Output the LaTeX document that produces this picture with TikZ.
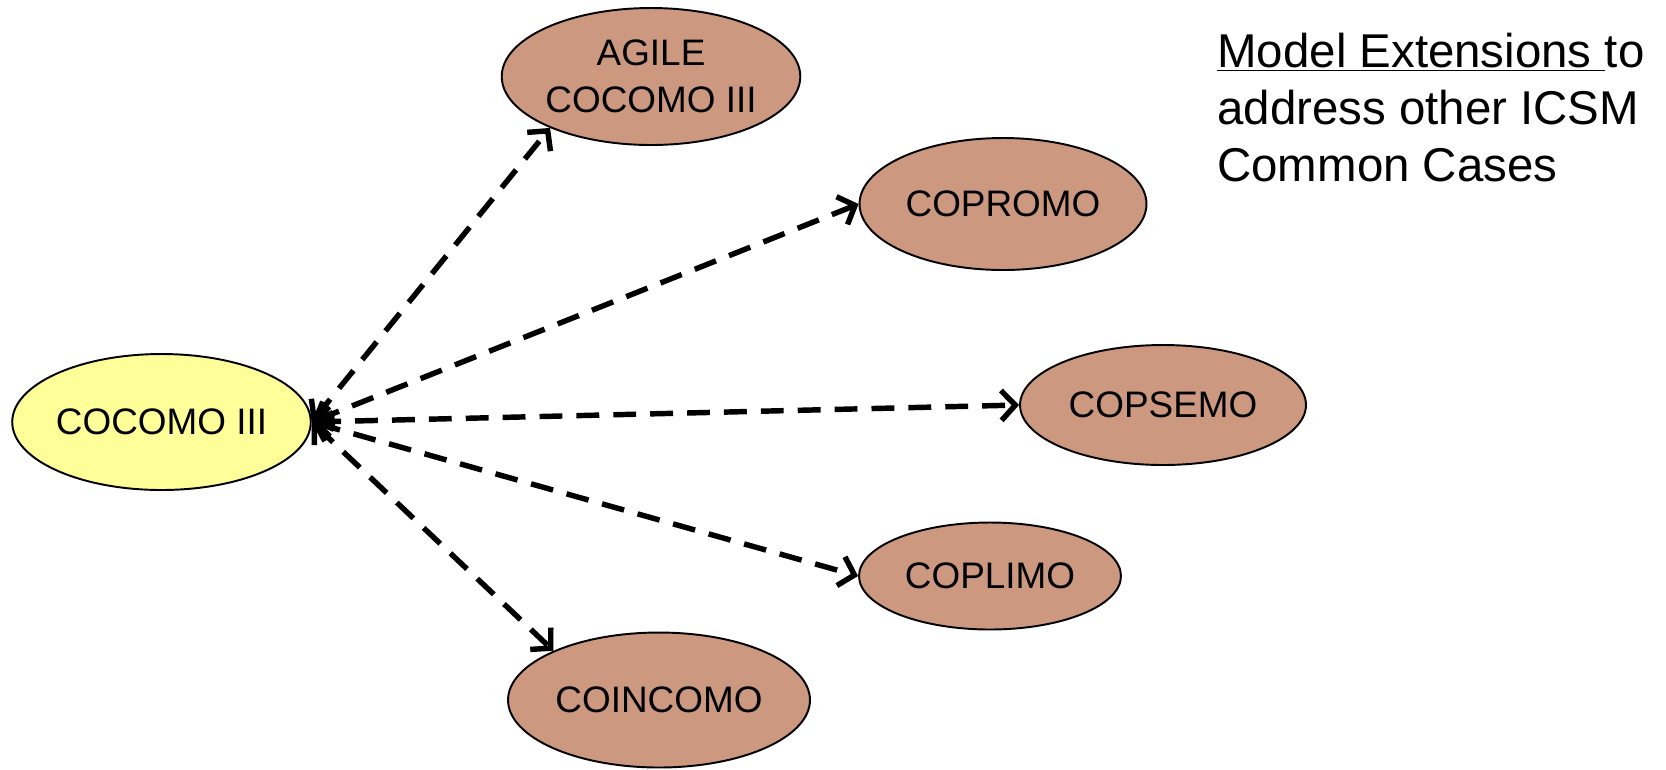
\documentclass[tikz,border=0pt]{standalone}
\usepackage{fontspec}
\setmainfont{Liberation Sans}
\usetikzlibrary{arrows.meta, shapes.geometric}
\definecolor{extbrown}{RGB}{204,153,128}
\definecolor{baseyellow}{RGB}{255,255,153}

\begin{document}
\begin{tikzpicture}[x=0.02cm, y=-0.02cm,
  model/.style={ellipse, draw=black, line width=1.1pt, fill=extbrown,
    inner sep=0pt, align=center, font=\fontsize{21}{27}\selectfont},
  link/.style={line width=3.1pt, dash pattern=on 13pt off 8pt,
    {Straight Barb[length=8pt,width=17pt]}-{Straight Barb[length=8pt,width=17pt]}}]
\useasboundingbox (0,0) rectangle (1666,769);
% Base model
\node[model, fill=baseyellow, minimum width=5.96cm, minimum height=2.72cm]
  (cocomo) at (161.5,422) {COCOMO III};
% Extensions
\node[model, minimum width=5.78cm, minimum height=2.74cm]
  (agile) at (651,76.5) {AGILE\\COCOMO III};
\node[model, minimum width=5.74cm, minimum height=2.64cm]
  (copromo) at (1003,204) {COPROMO};
\node[model, minimum width=5.72cm, minimum height=2.40cm]
  (copsemo) at (1163,405) {COPSEMO};
\node[model, minimum width=5.24cm, minimum height=2.14cm]
  (coplimo) at (990,576) {COPLIMO};
\node[model, minimum width=6.04cm, minimum height=2.70cm]
  (coincomo) at (659,700) {COINCOMO};
% Dashed two-way links
\draw[link] (cocomo.east) -- (agile.207);
\draw[link] (cocomo.east) -- (copromo.west);
\draw[link] (cocomo.east) -- (copsemo.west);
\draw[link] (cocomo.east) -- (coplimo.west);
\draw[link] (cocomo.east) -- (coincomo.155);
% Caption
\node[anchor=north west, inner sep=0pt, align=left,
  font=\fontsize{27}{32.4}\selectfont] (caption) at (1217,33)
  {\underline{Model Extensions\ }to\\address other ICSM\\Common Cases};
\end{tikzpicture}
\end{document}
